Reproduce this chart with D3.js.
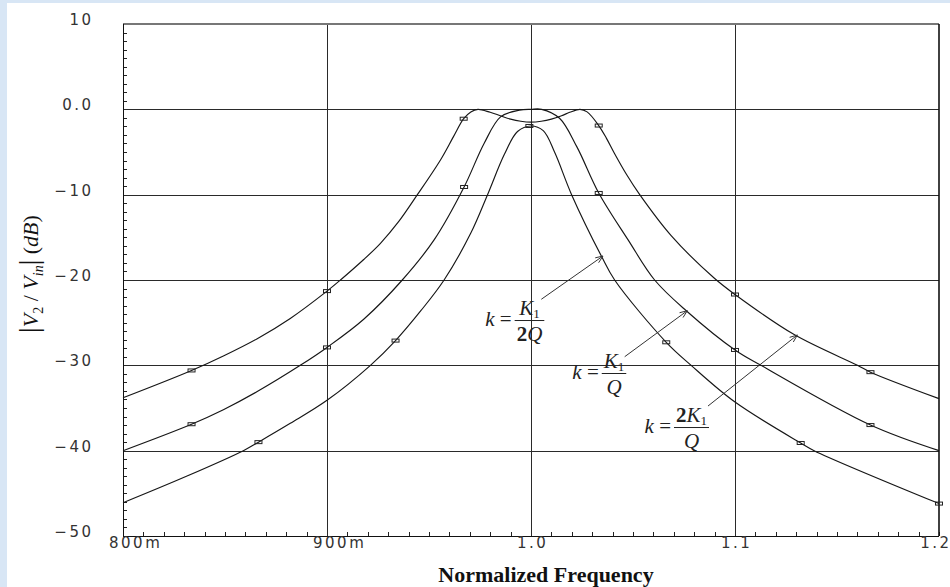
<!DOCTYPE html>
<html><head><meta charset="utf-8">
<script src="https://cdn.jsdelivr.net/npm/d3@7"></script>
<style>html,body{margin:0;padding:0;background:#d8e6f5;overflow:hidden}svg{display:block}</style>
</head><body><svg id="c" width="950" height="587"></svg>
<script>
// ---- data ----
const xTicks = [0.8, 0.9, 1.0, 1.1, 1.2];
const xTickLabels = ["800m", "900m", "1.0", "1.1", "1.2"];
const yTicks = [10, 0, -10, -20, -30, -40, -50];
const yTickLabels = ["10", "0.0", "−10", "−20", "−30", "−40", "−50"];

// k = 2K1/Q (over-coupled, double hump)
const freqOver = [0.800,0.8336,0.8492,0.8656,0.882,0.900,0.9066,0.918,0.9262,0.935,0.9443,0.9557,0.962,0.967,0.9705,0.974,0.980,0.985,0.990,0.995,1.000,1.005,1.010,1.015,1.019,1.024,1.0275,1.0332,1.037,1.041,1.047,1.0533,1.0687,1.0899,1.100,1.129,1.160,1.1664,1.200];
const dbOver   = [-33.8,-30.6,-28.9,-26.9,-24.5,-21.3,-20.0,-17.6,-15.7,-13.2,-10.0,-5.9,-3.2,-1.1,-0.3,0.0,-0.35,-0.75,-1.15,-1.4,-1.5,-1.4,-1.15,-0.75,-0.35,0.0,-0.3,-1.9,-3.4,-5.2,-7.7,-10.0,-14.8,-19.8,-21.7,-26.4,-30.0,-30.8,-33.9];

// k = K1/Q (critical coupling, flat top)
const freqCrit = [0.800,0.8336,0.8492,0.8656,0.8869,0.900,0.918,0.9369,0.9525,0.9672,0.977,0.9852,0.9943,1.000,1.0052,1.014,1.0225,1.0332,1.0476,1.0606,1.0761,1.100,1.1127,1.1664,1.200];
const dbCrit   = [-40.0,-36.9,-35.2,-33.1,-30.0,-27.9,-24.6,-20.0,-15.3,-9.1,-4.0,-0.86,-0.1,0.0,0.0,-1.05,-4.4,-9.8,-15.3,-20.0,-23.6,-28.2,-30.0,-37.0,-40.0];

// k = K1/2Q (under-coupled, single peak)
const freqUnder = [0.800,0.8311,0.859,0.8664,0.882,0.900,0.9213,0.9336,0.946,0.9574,0.9705,0.9787,0.9869,0.9934,1.000,1.0060,1.0117,1.0199,1.0345,1.041,1.0663,1.0785,1.100,1.1322,1.1388,1.200];
const dbUnder   = [-46.1,-43.0,-40.0,-39.0,-36.8,-34.1,-30.0,-27.1,-23.6,-20.0,-14.5,-10.0,-5.3,-2.6,-1.95,-2.5,-5.1,-10.0,-17.2,-20.0,-27.3,-30.0,-34.3,-39.1,-40.0,-46.2];

// trace markers
const markOverF  = [0.8336,0.900,0.967,1.0332,1.100,1.1664];
const markOverDb = [-30.6,-21.3,-1.1,-1.9,-21.7,-30.8];
const markCritF  = [0.8336,0.900,0.9672,1.0332,1.100,1.1664];
const markCritDb = [-36.9,-27.9,-9.1,-9.8,-28.2,-37.0];
const markUnderF  = [0.8664,0.9336,0.9992,1.0663,1.1322,1.200];
const markUnderDb = [-39.0,-27.1,-1.95,-27.3,-39.1,-46.2];

// annotation labels (fraction bar centre, arrow start, arrow tip) in data units
const annoNum = [[["K","i"],["1","s"]], [["K","i"],["1","s"]], [["2","b"],["K","i"],["1","s"]]];
const annoDen = [[["2","b"],["Q","i"]], [["Q","i"]], [["Q","i"]]];
const annoBar = [[0.99926,-24.69],[1.04069,-30.90],[1.07868,-37.23]];
const annoFrom = [[1.00505,-22.26],[1.04593,-28.99],[1.08676,-34.77]];
const annoTo   = [[1.03529,-17.19],[1.07662,-23.60],[1.13054,-26.45]];

// ---- drawing ----
const svg = d3.select("#c");
const L = 123, R = 939, T = 24, B = 536;
const x = d3.scaleLinear().domain([0.8, 1.2]).range([L, R]);
const y = d3.scaleLinear().domain([-50, 10]).range([B, T]);

// white panel
svg.append("rect").attr("x", 7).attr("y", 3).attr("width", 943).attr("height", 584).attr("fill", "#ffffff");

// minor ticks
const minorX = d3.range(0, 41).map(i => 0.8 + i * 0.01);
const minorY = d3.range(0, 61).map(i => -50 + i);
const gT = svg.append("g").attr("stroke", "#222").attr("stroke-width", 1).attr("shape-rendering", "crispEdges");
gT.selectAll("line.mx").data(minorX).join("line")
  .attr("x1", d => Math.round(x(d)) + 0.5).attr("x2", d => Math.round(x(d)) + 0.5)
  .attr("y1", B).attr("y2", B - 4);
gT.selectAll("line.my").data(minorY).join("line")
  .attr("y1", d => Math.round(y(d)) + 0.5).attr("y2", d => Math.round(y(d)) + 0.5)
  .attr("x1", L).attr("x2", L + 4);

// grid
const gG = svg.append("g").attr("stroke", "#2a2a2a").attr("stroke-width", 1).attr("shape-rendering", "crispEdges");
gG.selectAll("line.gx").data(xTicks.slice(1, -1)).join("line")
  .attr("x1", d => Math.round(x(d)) + 0.5).attr("x2", d => Math.round(x(d)) + 0.5)
  .attr("y1", T).attr("y2", B);
gG.selectAll("line.gy").data(yTicks.slice(1, -1)).join("line")
  .attr("y1", d => Math.round(y(d)) + 0.5).attr("y2", d => Math.round(y(d)) + 0.5)
  .attr("x1", L).attr("x2", R);

// frame
svg.append("line").attr("x1", L).attr("x2", R).attr("y1", T).attr("y2", T).attr("stroke", "#777").attr("stroke-width", 2);
svg.append("line").attr("x1", R).attr("x2", R).attr("y1", T).attr("y2", B).attr("stroke", "#111").attr("stroke-width", 1.6);
svg.append("line").attr("x1", L + 0.5).attr("x2", L + 0.5).attr("y1", T).attr("y2", B).attr("stroke", "#111").attr("stroke-width", 1);
svg.append("line").attr("x1", L).attr("x2", R).attr("y1", B + 0.5).attr("y2", B + 0.5).attr("stroke", "#111").attr("stroke-width", 1);

// tick labels
const tickFont = "'DejaVu Sans', sans-serif";
const ls = 2.5;
svg.append("g").selectAll("text").data(xTicks).join("text")
  .attr("x", d => x(d) - 14).attr("y", 548)
  .attr("font-family", tickFont).attr("font-size", 15).attr("letter-spacing", ls)
  .attr("fill", "#333").text((d, i) => xTickLabels[i])
  .each(function() {
    const w = this.getComputedTextLength();
    const x0 = +this.getAttribute("x");
    if (x0 + w - ls > 949) this.setAttribute("x", 949 - w + ls);
  });
svg.append("g").selectAll("text").data(yTicks).join("text")
  .attr("x", 91 + ls).attr("y", d => y(d) + 1)
  .attr("text-anchor", "end")
  .attr("font-family", tickFont).attr("font-size", 15).attr("letter-spacing", ls)
  .attr("fill", "#333").text((d, i) => yTickLabels[i]);

// axis titles
const serif = "'Liberation Serif', 'Times New Roman', serif";
svg.append("text").attr("x", 546).attr("y", 582).attr("text-anchor", "middle")
  .attr("font-family", serif).attr("font-weight", "bold")
  .attr("font-size", 22).attr("fill", "#111").text("Normalized Frequency");

const yt = svg.append("text").attr("transform", "translate(38,274) rotate(-90)")
  .attr("text-anchor", "middle").attr("font-family", serif)
  .attr("font-size", 22).attr("fill", "#111");
yt.append("tspan").attr("font-size", 28).text("|");
yt.append("tspan").attr("font-style", "italic").text("V");
yt.append("tspan").attr("font-size", 14).attr("dy", 5).text("2");
yt.append("tspan").attr("dy", -5).text(" / ");
yt.append("tspan").attr("font-style", "italic").text("V");
yt.append("tspan").attr("font-size", 14).attr("font-style", "italic").attr("dy", 5).text("in");
yt.append("tspan").attr("dy", -5).attr("font-size", 28).text("|");
yt.append("tspan").text(" (");
yt.append("tspan").attr("font-style", "italic").text("dB");
yt.append("tspan").text(")");

// curves
const line = d3.line().x(d => x(d[0])).y(d => y(d[1])).curve(d3.curveCatmullRom.alpha(0.5));
const series = [[freqOver, dbOver], [freqCrit, dbCrit], [freqUnder, dbUnder]];
svg.append("g").selectAll("path").data(series).join("path")
  .attr("d", s => line(s[0].map((f, i) => [f, s[1][i]])))
  .attr("fill", "none").attr("stroke", "#161616").attr("stroke-width", 1.15);

// markers
const marks = [[markOverF, markOverDb], [markCritF, markCritDb], [markUnderF, markUnderDb]];
const gM = svg.append("g");
marks.forEach(m => {
  gM.selectAll(null).data(m[0].map((f, i) => [f, m[1][i]])).join("rect")
    .attr("x", d => x(d[0]) - 3.5).attr("y", d => y(d[1]) - 1.5)
    .attr("width", 7).attr("height", 3)
    .attr("fill", "none").attr("stroke", "#222").attr("stroke-width", 1);
});

// annotations
function addRuns(t, runs) {
  let sub = false;
  runs.forEach(r => {
    const ts = t.append("tspan").text(r[0]);
    if (r[1] === "i") ts.attr("font-style", "italic");
    if (r[1] === "b") ts.attr("font-weight", "bold");
    if (r[1] === "s") { ts.attr("font-size", 13).attr("dy", 3); sub = true; }
    else if (sub) { ts.attr("dy", -3); sub = false; }
  });
}
annoBar.forEach((b, i) => {
  const bx = x(b[0]), by = y(b[1]);
  const g = svg.append("g").attr("font-family", serif).attr("font-size", 21).attr("fill", "#222");
  const num = g.append("text").attr("x", bx).attr("y", by - 5).attr("text-anchor", "middle");
  addRuns(num, annoNum[i]);
  const den = g.append("text").attr("x", bx).attr("y", by + 21).attr("text-anchor", "middle");
  addRuns(den, annoDen[i]);
  const w = Math.max(num.node().getComputedTextLength(), den.node().getComputedTextLength()) + 4;
  g.append("line").attr("x1", bx - w / 2).attr("x2", bx + w / 2).attr("y1", by + 0.5).attr("y2", by + 0.5)
    .attr("stroke", "#222").attr("stroke-width", 1);
  const k = g.append("text").attr("x", bx - w / 2 - 3).attr("y", by + 6).attr("text-anchor", "end");
  k.append("tspan").attr("font-style", "italic").text("k");
  k.append("tspan").text(" =");
  // arrow
  const x1 = x(annoFrom[i][0]), y1 = y(annoFrom[i][1]);
  const x2 = x(annoTo[i][0]), y2 = y(annoTo[i][1]);
  const ang = Math.atan2(y2 - y1, x2 - x1), hl = 8, ha = 0.38;
  const p = d3.path();
  p.moveTo(x1, y1); p.lineTo(x2, y2);
  p.moveTo(x2 - hl * Math.cos(ang - ha), y2 - hl * Math.sin(ang - ha)); p.lineTo(x2, y2);
  p.lineTo(x2 - hl * Math.cos(ang + ha), y2 - hl * Math.sin(ang + ha));
  g.append("path").attr("d", p.toString()).attr("fill", "none").attr("stroke", "#333").attr("stroke-width", 1);
});
</script></body></html>
